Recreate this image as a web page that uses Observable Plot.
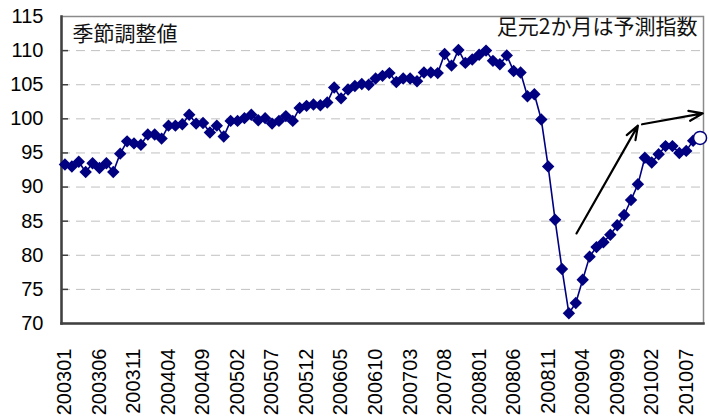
<!DOCTYPE html>
<html><head><meta charset="utf-8">
<script src="https://cdn.jsdelivr.net/npm/d3@7"></script>
<script src="https://cdn.jsdelivr.net/npm/@observablehq/plot@0.6"></script>
<style>body{margin:0;background:#fff}#chart svg{display:block}</style>
</head><body><div id="chart"></div>
<script>
// Monthly categories 2003-01 .. 2010-09
const months = [];
for (let y = 2003; y <= 2010; y++) for (let m = 1; m <= 12; m++) months.push(`${y}${String(m).padStart(2, "0")}`);
months.length = 93;

// Seasonally adjusted index (last point = forecast, drawn open)
const values = [
  93.3, 93.0, 93.7, 92.2, 93.5, 92.8, 93.5, 92.2, 94.9, 96.7, 96.4, 96.2,
  97.7, 97.7, 97.1, 99.0, 99.0, 99.2, 100.6, 99.3, 99.4, 98.0, 99.0, 97.4,
  99.7, 99.7, 100.1, 100.6, 99.8, 100.1, 99.3, 99.7, 100.4, 99.7, 101.6, 101.9,
  102.1, 102.0, 102.4, 104.6, 103.0, 104.3, 104.8, 105.1, 105.0, 105.9, 106.3, 106.7,
  105.4, 105.9, 105.9, 105.5, 106.8, 106.8, 106.7, 109.5, 107.8, 110.1, 108.2, 108.7,
  109.4, 110.0, 108.5, 108.0, 109.3, 107.0, 106.8, 103.3, 103.6, 99.9, 93.0, 85.2,
  78.0, 71.5, 73.0, 76.4, 79.8, 81.2, 81.9, 83.0, 84.4, 85.9, 88.1, 90.4,
  94.3, 93.6, 94.8, 96.0, 96.0, 95.0, 95.3, 96.8, 97.2
];

const tickLabels = ["200301","200306","200311","200404","200409","200502","200507","200512",
  "200605","200610","200703","200708","200801","200806","200811","200904","200909","201002","201007"];
const yTicks = [70, 75, 80, 85, 90, 95, 100, 105, 110, 115];
const gridTicks = [75, 80, 85, 90, 95, 100, 105, 110];

const labelLeft = "季節調整値";
const labelRight = "足元2か月は予測指数";

// Annotation arrows in data coordinates (month index, index value)
const arrowStartX = [74.1, 83.6];
const arrowStartY = [83.2, 99.2];
const arrowEndX = [83.0, 92.4];
const arrowEndY = [99.0, 100.8];

const data = values.map((v, i) => ({i, month: months[i], v}));
const arrows = arrowStartX.map((x, k) => ({x1: x, y1: arrowStartY[k], x2: arrowEndX[k], y2: arrowEndY[k]}));
const tickIdx = tickLabels.map(l => months.indexOf(l));

const navy = "#000080";
const cjk = "'Noto Sans CJK JP', sans-serif";

const chart = Plot.plot({
  width: 709, height: 417,
  marginLeft: 61, marginRight: 6, marginTop: 16, marginBottom: 94,
  style: {fontFamily: "'Liberation Sans', Arial, sans-serif", fontSize: "20px", background: "#fff", color: "#000"},
  x: {domain: [-0.5, 92.5]},
  y: {domain: [70, 115]},
  marks: [
    Plot.gridY(gridTicks, {stroke: "#c0c0c0", strokeOpacity: 1, strokeDasharray: "9,6", strokeWidth: 1}),
    Plot.frame({stroke: "#8a8a8a", strokeWidth: 1.5}),
    Plot.frame({anchor: "left", stroke: "#404040", strokeWidth: 2.5}),
    Plot.frame({anchor: "bottom", stroke: "#404040", strokeWidth: 2.5}),
    Plot.axisY(yTicks, {anchor: "left", tickSize: 0, tickPadding: 18, fontSize: 20, label: null}),
    Plot.axisY(gridTicks, {anchor: "left", tickSize: 7, dx: 7, fill: "none", stroke: "#404040", strokeWidth: 1.5, label: null}),
    Plot.axisX(tickIdx, {anchor: "bottom", tickSize: 0, tickPadding: 25, tickRotate: -90, fontSize: 20, tickFormat: i => months[i], label: null}),
    Plot.line(data, {x: "i", y: "v", stroke: navy, strokeWidth: 1.6}),
    Plot.dot(data.slice(0, -1), {x: "i", y: "v", symbol: "diamond2", r: 5.6, fill: navy, stroke: null}),
    Plot.dot(data.slice(-1), {x: "i", y: "v", r: 6.5, fill: "white", stroke: navy, strokeWidth: 1.5}),
    Plot.arrow(arrows, {x1: "x1", y1: "y1", x2: "x2", y2: "y2", stroke: "black", strokeWidth: 2.2, headLength: 10, headAngle: 40}),
    Plot.text([labelLeft], {frameAnchor: "top-left", dx: 11, dy: 10, fontSize: 21, fontFamily: cjk, fill: "#111"}),
    Plot.text([labelRight], {frameAnchor: "top-right", dx: -6, dy: 3, fontSize: 21, fontFamily: cjk, fill: "#111"})
  ]
});
document.getElementById("chart").append(chart);
</script>
</body></html>
